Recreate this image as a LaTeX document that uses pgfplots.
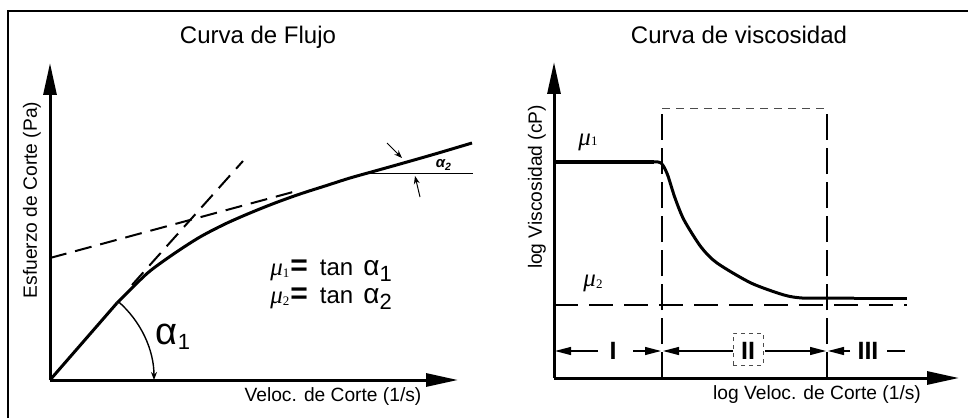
\documentclass[border=0pt]{standalone}
\usepackage{pgfplots}
\pgfplotsset{compat=1.18}
\usepackage{fontspec}
\setmainfont{Liberation Sans}
\newfontfamily\greekserif{Liberation Serif}
\usetikzlibrary{arrows.meta}

\pgfplotsset{
  sketch/.style={
    scale only axis, x=0.5pt, y=0.5pt,
    axis lines=left, enlargelimits=false, clip=false,
    xtick=\empty, ytick=\empty,
    axis line style={line width=1.5pt, -{Triangle[length=16pt,width=6.5pt]}},
    anchor=south west,
  },
  thickcurve/.style={line width=1.5pt, no marks},
  dashline/.style={line width=1pt, no marks},
  thinline/.style={line width=0.5pt, no marks},
  regionarrow/.style={line width=0.6pt, no marks, -{Triangle[length=8pt,width=4pt]}},
}

\newcommand{\mulabel}[2]{{\greekserif\itshape\fontsize{12.5}{12.5}\selectfont μ}\raisebox{#1}{\greekserif\fontsize{6.5}{6.5}\selectfont #2}}

\begin{document}
\begin{tikzpicture}[x=1pt,y=1pt]
\path[use as bounding box] (0,0) rectangle (484,209);
% outer frame
\draw[line width=1.1pt] (4,0) -- (4,203.5) -- (484,203.5);

% ---------------- Curva de Flujo ----------------
\begin{axis}[sketch, at={(25pt,19pt)}, xmin=0, xmax=408, ymin=0, ymax=317]
  % linear start, then shear-thinning flow curve
  \addplot[thickcurve] coordinates {(0,0) (67,77)};
  \addplot[thickcurve, smooth, tension=0.5] coordinates {
    (67,77) (83,93) (100,109) (125,127) (150,143) (175,156) (200,167)
    (225,177) (250,186) (275,194) (300,202) (325,209) (350,216) (385,226) (422,237)};
  % tangents at low and high shear rate
  \addplot[dashline, dash pattern=on 8.5pt off 4.5pt] coordinates {(82,95) (193,219)};
  \addplot[dashline, dash pattern=on 8.5pt off 4.5pt] coordinates {(0,122) (243,188)};
  % angle alpha_2
  \addplot[thinline] coordinates {(315,206) (423,206)};
  \addplot[thinline, -{Stealth[length=4pt,width=3pt]}] coordinates {(337,237) (352,222)};
  \addplot[thinline, -{Stealth[length=4pt,width=3pt]}] coordinates {(370,183) (365,204)};
  \node[font=\bfseries\itshape\fontsize{7.5}{7.5}\selectfont] at (axis cs:394,215) {α\textsubscript{2}};
  % angle alpha_1
  \draw[line width=0.7pt, -{Stealth[length=4pt,width=3pt]}]
    (axis cs:0,0) ++(49:52pt) arc[start angle=49, end angle=0, radius=52pt];
  \node at (axis cs:123,43) {\fontsize{19}{19}\selectfont α\raisebox{-2.5pt}{\fontsize{11}{11}\selectfont 1}};
  % relations
  \node[anchor=base west, inner sep=0] at (axis cs:220,105)
    {\mulabel{-1pt}{1}\hspace{0.5pt}{\fontsize{15}{15}\selectfont\bfseries =}\hspace{6pt}{\fontsize{12}{12}\selectfont tan}\hspace{5pt}{\fontsize{14}{14}\selectfont α}\raisebox{-3pt}{\fontsize{11}{11}\selectfont 1}};
  \node[anchor=base west, inner sep=0] at (axis cs:220,77)
    {\mulabel{-1pt}{2}\hspace{0.5pt}{\fontsize{15}{15}\selectfont\bfseries =}\hspace{6pt}{\fontsize{12}{12}\selectfont tan}\hspace{5pt}{\fontsize{14}{14}\selectfont α}\raisebox{-3pt}{\fontsize{11}{11}\selectfont 2}};
  % titles and labels
  \node[font=\fontsize{12}{12}\selectfont] at (axis cs:208,343) {Curva de Flujo};
  \node[font=\fontsize{9.6}{9.6}\selectfont] at (axis cs:283,-17) {Veloc. de Corte (1/s)};
  \node[font=\fontsize{9.6}{9.6}\selectfont, rotate=90] at (axis cs:-18,180) {Esfuerzo de Corte (Pa)};
\end{axis}

% ---------------- Curva de viscosidad ----------------
\begin{axis}[sketch, at={(277pt,20pt)}, xmin=0, xmax=405, ymin=0, ymax=316]
  % viscosity curve: upper plateau, shear thinning, lower plateau
  \addplot[thickcurve] coordinates {(0,216) (100,216)};
  \addplot[thickcurve, smooth, tension=0.45] coordinates {
    (100,216) (104,216) (107,215) (110,211) (114,202) (121,180) (130,158)
    (147,131) (163,115) (197,95) (230,83) (248,80) (273,80) (300,80)};
  \addplot[thickcurve] coordinates {(300,80) (353,80)};
  % mu_2 level
  \addplot[dashline, dash pattern=on 12pt off 5.5pt] coordinates {(0,73) (353,73)};
  % region boundaries
  \addplot[dashline, dash pattern=on 13pt off 4pt] coordinates {(108,0) (108,270)};
  \addplot[dashline, dash pattern=on 13pt off 4pt] coordinates {(273,0) (273,270)};
  \addplot[line width=0.4pt, black!70, dash pattern=on 4pt off 3pt, no marks] coordinates {(108,270) (273,270)};
  % region markers
  \addplot[regionarrow] coordinates {(44,27) (1,27)};
  \addplot[regionarrow] coordinates {(79,27) (107,27)};
  \addplot[regionarrow] coordinates {(179,27) (109,27)};
  \addplot[regionarrow] coordinates {(211,27) (272,27)};
  \addplot[regionarrow] coordinates {(296,27) (274,27)};
  \addplot[line width=0.6pt, no marks] coordinates {(333,27) (351,27)};
  \addplot[line width=0.4pt, black!70, dash pattern=on 2pt off 2pt, no marks] coordinates {(179,13) (179,45) (209,45) (209,13) (179,13)};
  \node[font=\fontsize{12.5}{12.5}\selectfont\bfseries] at (axis cs:59,27) {I};
  \node[font=\fontsize{12.5}{12.5}\selectfont\bfseries] at (axis cs:194,27) {II};
  \node[font=\fontsize{12.5}{12.5}\selectfont\bfseries] at (axis cs:314,27) {III};
  % viscosity levels
  \node at (axis cs:34,236) {\mulabel{0pt}{1}};
  \node at (axis cs:39,95) {\mulabel{-1pt}{2}};
  % titles and labels
  \node[font=\fontsize{12}{12}\selectfont] at (axis cs:185,343) {Curva de viscosidad};
  \node[font=\fontsize{9.6}{9.6}\selectfont] at (axis cs:263,-17) {log Veloc. de Corte (1/s)};
  \node[font=\fontsize{9.6}{9.6}\selectfont, rotate=90] at (axis cs:-17,191) {log Viscosidad (cP)};
\end{axis}
\end{tikzpicture}
\end{document}
